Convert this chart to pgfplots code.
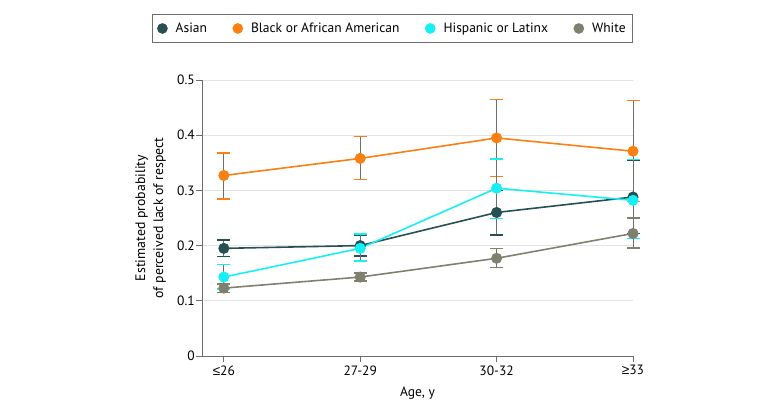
\documentclass[border=0pt]{standalone}
\usepackage{pgfplots}
\pgfplotsset{compat=1.18}
\usepackage{fontspec}
\setmainfont{PT Sans}
\newfontfamily\symfont{Liberation Sans}

\definecolor{asian}{RGB}{38,80,82}
\definecolor{afram}{RGB}{250,128,18}
\definecolor{hisp}{RGB}{22,240,245}
\definecolor{whiteg}{RGB}{128,128,110}
\definecolor{axisgray}{RGB}{110,110,110}

% x y ep em
\pgfplotstableread{
x y ep em
0 0.195 0.015 0.015
1 0.200 0.018 0.019
2 0.260 0.040 0.041
3 0.288 0.067 0.066
}\asian
\pgfplotstableread{
x y ep em
0 0.327 0.041 0.043
1 0.358 0.040 0.038
2 0.395 0.070 0.070
3 0.371 0.092 0.091
}\afram
\pgfplotstableread{
x y ep em
0 0.143 0.023 0.022
1 0.195 0.026 0.023
2 0.304 0.053 0.055
3 0.282 0.074 0.069
}\hisp
\pgfplotstableread{
x y ep em
0 0.123 0.007 0.008
1 0.143 0.007 0.007
2 0.177 0.018 0.017
3 0.222 0.028 0.026
}\whiteg

\begin{document}
\begin{tikzpicture}[x=1pt,y=1pt]
\useasboundingbox (-202,-55) rectangle (578,356);
\begin{axis}[
    at={(0,0)}, anchor=south west,
    scale only axis, width=431pt, height=276pt,
    clip=false,
    font=\fontsize{13.5}{16}\selectfont,
    xmin=-0.16, xmax=3, ymin=0, ymax=0.5,
    xtick={0,1,2,3},
    xticklabels={{\symfont ≤}26,27-29,30-32,{\symfont ≥}33},
    ytick={0,0.1,0.2,0.3,0.4,0.5},
    /pgf/number format/assume math mode=true,
    axis lines*=left,
    axis line style={axisgray, line width=0.8pt},
    tick style={axisgray, line width=0.8pt},
    tick align=outside,
    major tick length=6pt,
    ymajorgrids,
    grid style={gray!22, line width=0.8pt},
    xlabel={Age, y},
    xlabel style={at={(axis description cs:0.5,-0.134)}, anchor=center},
    ylabel={Estimated probability\\of perceived lack of respect},
    ylabel style={align=center, at={(axis description cs:-0.119,0.5)}, anchor=center,
        font=\fontsize{13.8}{18}\selectfont},
    yticklabel style={inner xsep=1pt},
    legend columns=4,
    legend style={at={(1,1.239)}, anchor=north east, draw=axisgray, line width=0.8pt,
        inner xsep=5pt, inner ysep=6.5pt,
        /tikz/every even column/.append style={column sep=23.5pt}},
    legend cell align=left,
    legend image code/.code={\path (0pt,0pt) (15pt,0pt);\draw[#1] plot coordinates {(4.5pt,0pt)};},
    error bars/y dir=both,
    error bars/y explicit,
    every axis plot/.append style={line width=1.6pt, mark=*, mark size=4.7pt},
]
\addlegendimage{only marks, mark=*, mark size=4.5pt, asian}
\addlegendentry{Asian}
\addlegendimage{only marks, mark=*, mark size=4.5pt, afram}
\addlegendentry{Black or African American}
\addlegendimage{only marks, mark=*, mark size=4.5pt, hisp}
\addlegendentry{Hispanic or Latinx}
\addlegendimage{only marks, mark=*, mark size=4.5pt, whiteg}
\addlegendentry{White}

\addplot+[forget plot, asian, mark options={fill=asian},
    error bars/error bar style={axisgray, line width=1pt},
    error bars/error mark options={asian, rotate=90, mark size=6.5pt, line width=1.6pt}]
    table[x=x, y=y, y error plus=ep, y error minus=em] {\asian};
\addplot+[forget plot, afram, mark options={fill=afram},
    error bars/error bar style={axisgray, line width=1pt},
    error bars/error mark options={afram, rotate=90, mark size=6.5pt, line width=1.6pt}]
    table[x=x, y=y, y error plus=ep, y error minus=em] {\afram};
\addplot+[forget plot, hisp, mark options={fill=hisp},
    error bars/error bar style={axisgray, line width=1pt},
    error bars/error mark options={hisp, rotate=90, mark size=6.5pt, line width=1.6pt}]
    table[x=x, y=y, y error plus=ep, y error minus=em] {\hisp};
\addplot+[forget plot, whiteg, mark options={fill=whiteg},
    error bars/error bar style={axisgray, line width=1pt},
    error bars/error mark options={whiteg, rotate=90, mark size=6.5pt, line width=1.6pt}]
    table[x=x, y=y, y error plus=ep, y error minus=em] {\whiteg};
\end{axis}
\end{tikzpicture}
\end{document}
